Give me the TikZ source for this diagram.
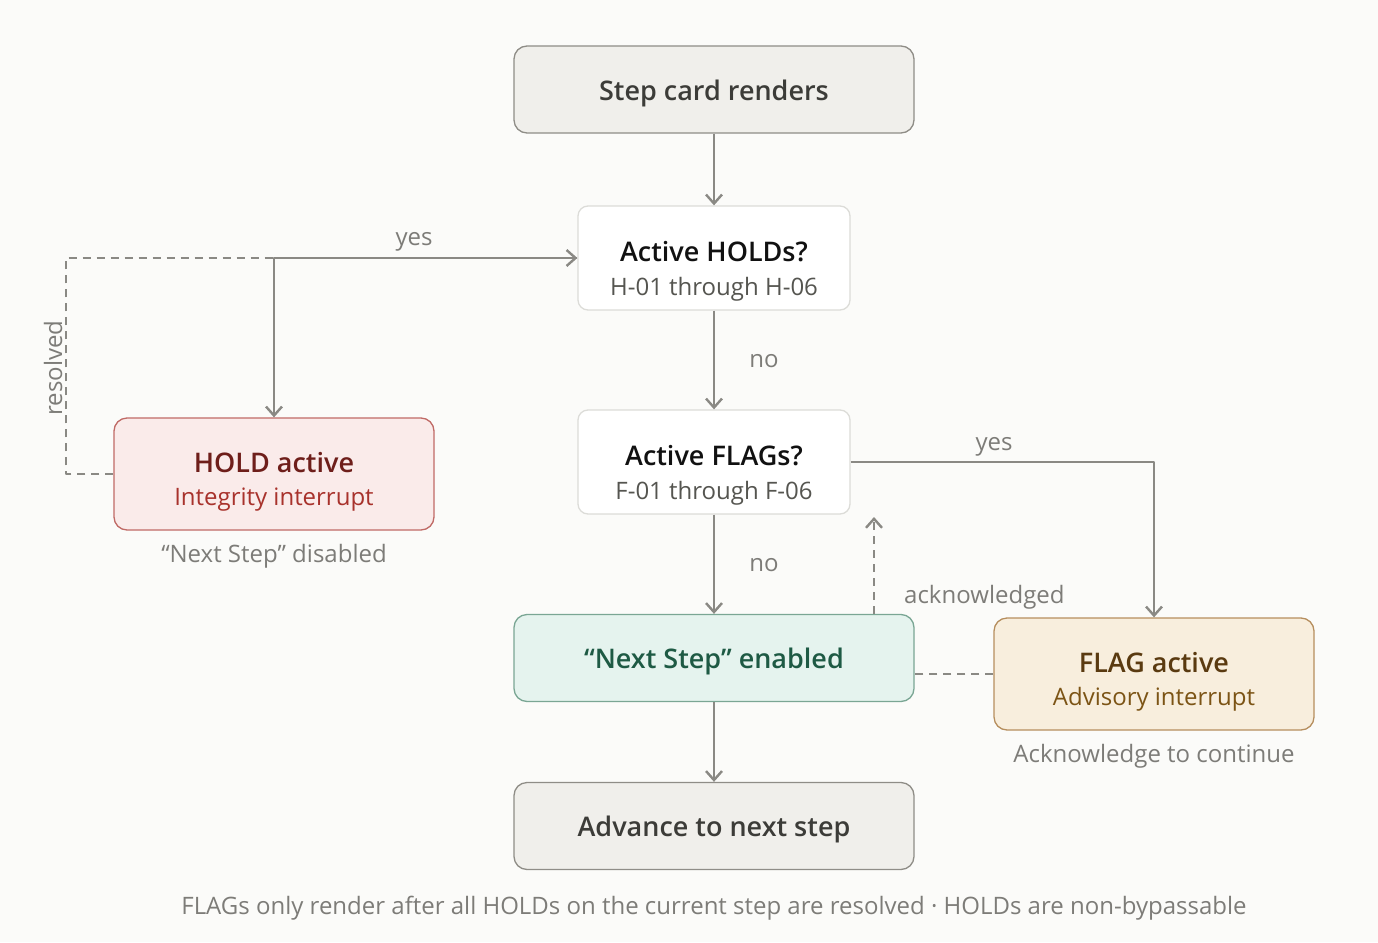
\documentclass[tikz,border=0pt]{standalone}
\usepackage{fontspec}
\setmainfont{Open Sans}[BoldFont={Open Sans Semibold}]
\usetikzlibrary{positioning,calc,arrows.meta}
\definecolor{bgpaper}{HTML}{FBFBF9}
\definecolor{linegray}{HTML}{8A8984}
\definecolor{labelgray}{HTML}{7D7C78}
\definecolor{greyfill}{HTML}{F0EFEB}
\definecolor{greydraw}{HTML}{8F8D87}
\definecolor{greytext}{HTML}{3C3C38}
\definecolor{askdraw}{HTML}{DCDCD8}
\definecolor{asktext}{HTML}{111111}
\definecolor{asksub}{HTML}{555550}
\definecolor{holdfill}{HTML}{FAEBEA}
\definecolor{holddraw}{HTML}{C06A66}
\definecolor{holdtext}{HTML}{6E1E1A}
\definecolor{holdsub}{HTML}{A8322C}
\definecolor{nextfill}{HTML}{E5F3EE}
\definecolor{nextdraw}{HTML}{7AA694}
\definecolor{nexttext}{HTML}{1E5A44}
\definecolor{flagfill}{HTML}{F8EEDD}
\definecolor{flagdraw}{HTML}{B68E5E}
\definecolor{flagtext}{HTML}{5A3A10}
\definecolor{flagsub}{HTML}{7C5415}
\newcommand \titlesize {\fontsize{27}{32}\selectfont\bfseries}
\newcommand \subsize {\fontsize{24}{30}\selectfont}
\tikzset{
  card/.style={rounded corners=13, line width=1.3, minimum width=400, minimum height=87, inner sep=0},
  greycard/.style={card, draw=greydraw, fill=greyfill},
  askcard/.style={card, draw=askdraw, fill=white, minimum width=272, minimum height=104, rounded corners=10},
  holdcard/.style={card, draw=holddraw, fill=holdfill, minimum width=320, minimum height=112},
  nextcard/.style={card, draw=nextdraw, fill=nextfill},
  flagcard/.style={card, draw=flagdraw, fill=flagfill, minimum width=320, minimum height=112},
  cardtitle/.style={anchor=base, inner sep=0, font=\titlesize},
  cardsub/.style={anchor=base, inner sep=0, font=\subsize},
  tip/.style={-{Straight Barb[length=9, width=16, line width=2.4]}},
  flow/.style={tip, draw=linegray, line width=2.4},
  dflow/.style={draw=linegray, line width=2.4, dash pattern=on 8 off 6},
  lbl/.style={text=labelgray, font=\subsize, inner sep=0, anchor=base},
}
\begin{document}
\begin{tikzpicture}[x=1pt, y=-1pt, line join=round]
\fill[bgpaper] (0,0) rectangle (1378,942);
\useasboundingbox (0,0) rectangle (1378,942);
% boxes
\node[greycard] (start)   at (714,89.5) {};
\node[askcard]  (holds)   at (714,258)  {};
\node[askcard]  (flags)   at (714,462)  {};
\node[holdcard] (hold)    at (274,474)  {};
\node[nextcard] (next)    at (714,658)  {};
\node[flagcard] (flag)    at (1154,674) {};
\node[greycard] (advance) at (714,826)  {};
% box texts (baselines)
\node[cardtitle, text=greytext] (startT) at ([yshift=-10.5]start.center) {Step card renders};
\node[cardtitle, text=asktext]  (holdsT) at ([yshift=-3.5]holds.center) {Active HOLDs?};
\node[cardsub,   text=asksub]   (holdsS) at ([yshift=-37]holds.center)  {H-01 through H-06};
\node[cardtitle, text=asktext]  (flagsT) at ([yshift=-3.5]flags.center) {Active FLAGs?};
\node[cardsub,   text=asksub]   (flagsS) at ([yshift=-37]flags.center)  {F-01 through F-06};
\node[cardtitle, text=holdtext] (holdT)  at ([yshift=2]hold.center)     {HOLD active};
\node[cardsub,   text=holdsub]  (holdS)  at ([yshift=-31]hold.center)   {Integrity interrupt};
\node[cardtitle, text=nexttext] (nextT)  at ([yshift=-10.5]next.center) {“Next Step” enabled};
\node[cardtitle, text=flagtext] (flagT)  at ([yshift=2]flag.center)     {FLAG active};
\node[cardsub,   text=flagsub]  (flagS)  at ([yshift=-31]flag.center)   {Advisory interrupt};
\node[cardtitle, text=greytext] (advT)   at ([yshift=-10.5]advance.center) {Advance to next step};
% main line
\draw[flow] (start) -- (holds);
\draw[flow] (holds) -- (flags);
\draw[flow] (flags) -- (next);
\draw[flow] (next) -- (advance);
\node[lbl] (noA) at (764,367) {no};
\node[lbl] (noB) at (764,571) {no};
% hold loop
\coordinate (holdjoin) at (274,258);
\coordinate (holdback) at (66,258);
\draw[dflow,tip] (hold.west) -- (hold.west -| holdback) -- (holdback) -- (holds.west);
\draw[flow] (holds.west) -- (holdjoin) -- (hold.north);
\node[lbl] (yesA) at (414,245) {yes};
\node[lbl, rotate=90] (resolved) at (62,368) {resolved};
% flag loop
\draw[flow] (flags.east) -| (flag.north);
\node[lbl] (yesB) at (994,450) {yes};
\draw[dflow] (flag.west) -- (flag.west -| next.east);
\coordinate (ackend) at (874,517);
\draw[dflow,tip] (ackend |- next.north) -- (ackend);
\node[lbl, anchor=base west] (ack) at (904,603) {acknowledged};
% notes
\node[lbl] (holdnote) at (274,562)  {“Next Step” disabled};
\node[lbl] (flagnote) at (1154,762) {Acknowledge to continue};
\node[lbl] (footer)   at (714,914)  {FLAGs only render after all HOLDs on the current step are resolved · HOLDs are non-bypassable};
\end{tikzpicture}
\end{document}
